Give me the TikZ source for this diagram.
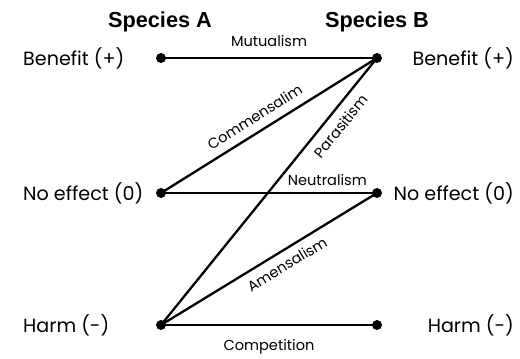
\documentclass[tikz,border=0pt]{standalone}
\usepackage{fontspec}
\setmainfont{Poppins}
\newfontfamily\titlefont{Liberation Sans}
\begin{document}
\begin{tikzpicture}[x=1bp,y=-1bp,
  dot/.style={circle,fill=black,inner sep=0pt,minimum size=10bp},
  link/.style={line width=2.3bp,black},
  lvl/.style={font=\fontsize{19.2}{21}\selectfont,inner sep=0pt},
  head/.style={font=\titlefont\bfseries\fontsize{21.8}{24}\selectfont,inner sep=0pt},
  rel/.style={font=\fontsize{14.6}{16}\selectfont,inner sep=2pt,sloped}]
\useasboundingbox (0,0) rectangle (520,358);
\node[head,anchor=base] (ha) at (160,27) {Species A};
\node[head,anchor=base] (hb) at (377,27) {Species B};
\node[dot] (a1) at (161,58) {};
\node[dot] (a2) at (161,193) {};
\node[dot] (a3) at (161,325) {};
\node[dot] (b1) at (377,58) {};
\node[dot] (b2) at (377,193) {};
\node[dot] (b3) at (377,325) {};
\node[lvl,anchor=base west] (la1) at (23,65) {Benefit (+)};
\node[lvl,anchor=base west] (la2) at (23,200) {No effect (0)};
\node[lvl,anchor=base west] (la3) at (23,332) {Harm (-)};
\node[lvl,anchor=base east] (lb1) at (514,65) {Benefit (+)};
\node[lvl,anchor=base east] (lb2) at (514,200) {No effect (0)};
\node[lvl,anchor=base east] (lb3) at (514,332) {Harm (-)};
\draw[link] (a1.center) -- node[rel,above=8pt,pos=0.5] {Mutualism} (b1.center);
\draw[link] (a2.center) -- node[rel,above=6pt,pos=0.47] {Commensalim} (b1.center);
\draw[link] (a3.center) -- node[rel,below=6pt,pos=0.78] {Parasitism} (b1.center);
\draw[link] (a2.center) -- node[rel,above=4pt,pos=0.77] {Neutralism} (b2.center);
\draw[link] (a3.center) -- node[rel,below=5pt,pos=0.55] {Amensalism} (b2.center);
\draw[link] (a3.center) -- node[rel,below=11pt,pos=0.5] {Competition} (b3.center);
\end{tikzpicture}
\end{document}
